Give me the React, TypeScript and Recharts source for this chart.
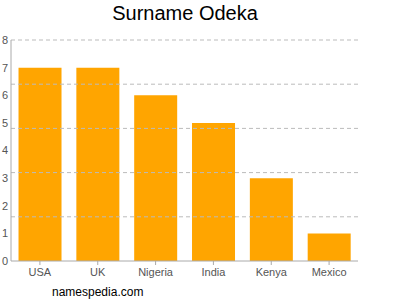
import React from "react";
import { BarChart, Bar, XAxis, YAxis, ReferenceLine } from "recharts";

const countries = ["USA", "UK", "Nigeria", "India", "Kenya", "Mexico"];
const counts = [7, 7, 6, 5, 3, 1];
const yTicks = [0, 1, 2, 3, 4, 5, 6, 7, 8];
const gridLevels = [1.6, 3.2, 4.8, 6.4, 8];

const data = countries.map((name, i) => ({ name, count: counts[i] }));

const font = "'Liberation Sans', Arial, sans-serif";

export default function App() {
  return (
    <div style={{ position: "absolute", left: 0, top: 0, width: 400, height: 300, background: "#fff", fontFamily: font }}>
      <div style={{ position: "absolute", left: 0, width: 370, top: 2, textAlign: "center", fontSize: 20, color: "#000" }}>
        Surname Odeka
      </div>
      <BarChart
        width={400}
        height={300}
        data={data}
        margin={{ top: 40, right: 42, bottom: 19, left: 0 }}
        barCategoryGap="13%"
      >
        {gridLevels.map((v) => (
          <ReferenceLine key={v} y={v} stroke="#bbb" strokeDasharray="4 3" />
        ))}
        <XAxis
          dataKey="name"
          height={20}
          stroke="#aaa"
          tickSize={4}
          tickMargin={3}
          tick={{ fill: "#555", fontSize: 11, fontFamily: font }}
        />
        <YAxis
          width={11}
          domain={[0, 8]}
          ticks={yTicks}
          interval={0}
          stroke="#aaa"
          tickLine={false}
          tickSize={0}
          tickMargin={3}
          tick={{ fill: "#555", fontSize: 11, fontFamily: font }}
        />
        <Bar dataKey="count" fill="#ffa500" isAnimationActive={false} />
      </BarChart>
      <div style={{ position: "absolute", left: 52, top: 285, fontSize: 12, color: "#000" }}>namespedia.com</div>
    </div>
  );
}
